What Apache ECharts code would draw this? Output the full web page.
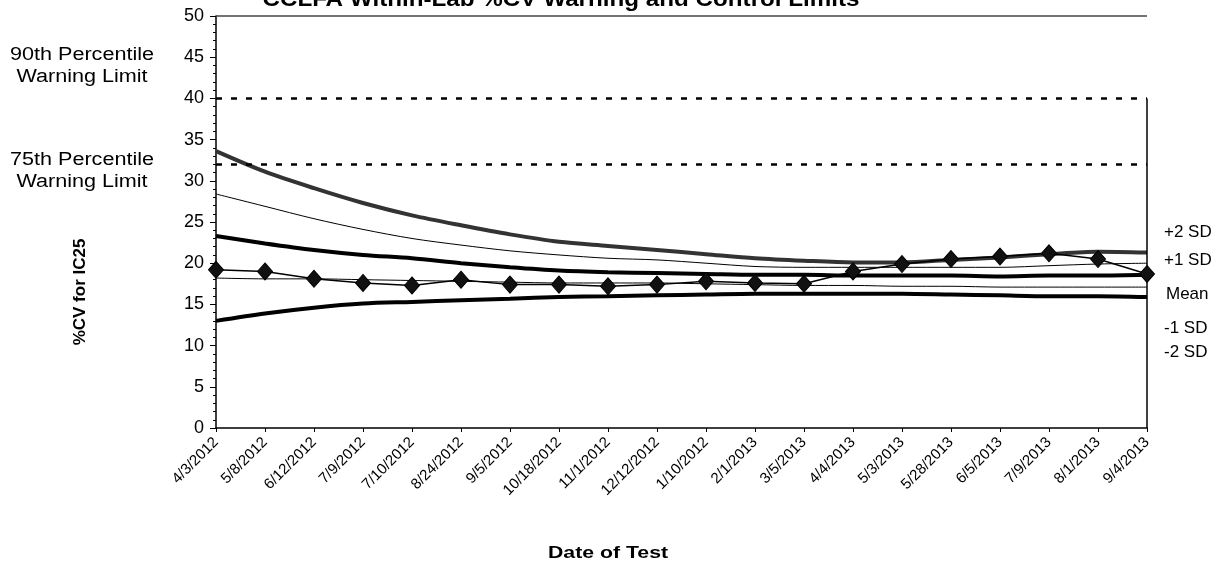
<!DOCTYPE html>
<html><head><meta charset="utf-8">
<script src="https://cdn.jsdelivr.net/npm/echarts@6/dist/echarts.min.js"></script>
<style>html,body{margin:0;padding:0;background:#fff}#c{width:1225px;height:575px}</style>
</head><body><div id="c"></div>
<script>
const dates = ['4/3/2012','5/8/2012','6/12/2012','7/9/2012','7/10/2012','8/24/2012','9/5/2012','10/18/2012','11/1/2012','12/12/2012','1/10/2012','2/1/2013','3/5/2013','4/4/2013','5/3/2013','5/28/2013','6/5/2013','7/9/2013','8/1/2013','9/4/2013'];
const cvValues = [19.2,19.0,18.1,17.6,17.3,18.0,17.4,17.4,17.2,17.4,17.8,17.6,17.5,19.0,19.9,20.5,20.8,21.2,20.5,18.7];
const plus2SD  = [33.6,31.1,29.1,27.3,25.8,24.6,23.5,22.6,22.1,21.6,21.1,20.6,20.3,20.1,20.1,20.4,20.7,21.1,21.4,21.3];
const plus1SD  = [28.4,26.9,25.4,24.1,23.0,22.2,21.5,21.0,20.6,20.4,20.0,19.6,19.5,19.5,19.5,19.5,19.5,19.7,19.9,20.0];
const meanCV   = [23.3,22.4,21.6,21.0,20.6,20.0,19.5,19.1,18.9,18.8,18.7,18.6,18.6,18.5,18.5,18.5,18.4,18.5,18.5,18.6];
const minus1SD = [18.2,18.1,18.1,18.0,17.9,17.8,17.7,17.6,17.6,17.6,17.5,17.4,17.3,17.3,17.2,17.2,17.1,17.1,17.1,17.1];
const minus2SD = [13.0,13.9,14.6,15.1,15.3,15.5,15.7,15.9,16.0,16.1,16.2,16.3,16.3,16.3,16.3,16.2,16.1,16.0,16.0,15.9];
const pct90 = 40;
const pct75 = 32;
const yMax = 50;
const yTicks = 5;

const F = 'Liberation Sans, Arial, sans-serif';
const chart = echarts.init(document.getElementById('c'));
function limitLine(name, data, width, color) {
  return {name, type:'line', data, symbol:'none', smooth:0.3, z:2,
    lineStyle:{color, width}};
}
function txt(x, y, text, size, opts) {
  return Object.assign({type:'text', x, y, style:Object.assign({text, fontFamily:F, fontSize:size, fill:'#000', verticalAlign:'middle'}, (opts && opts.style) || {})}, (opts && opts.el) || {});
}
chart.setOption({
  animation:false,
  backgroundColor:'#fff',
  grid:{left:216, right:78, top:16, bottom:147},
  xAxis:{type:'category', data:dates, boundaryGap:false,
    axisLine:{lineStyle:{color:'#000', width:1.5}},
    axisTick:{show:true, alignWithLabel:true, length:4, lineStyle:{color:'#000'}},
    axisLabel:{rotate:45, fontFamily:F, fontSize:15, color:'#000', margin:12, interval:0}},
  yAxis:{type:'value', min:0, max:yMax, interval:yTicks,
    axisLine:{show:true, lineStyle:{color:'#000', width:1.5}},
    axisTick:{show:true, length:6, lineStyle:{color:'#000'}},
    minorTick:{show:true, splitNumber:5, length:3, lineStyle:{color:'#000'}},
    splitLine:{show:false},
    axisLabel:{fontFamily:F, fontSize:18, color:'#000', margin:12}},
  series:[
    limitLine('+2 SD', plus2SD, 4, '#333'),
    limitLine('+1 SD', plus1SD, 1, '#000'),
    limitLine('Mean', meanCV, 4, '#000'),
    limitLine('-1 SD', minus1SD, 1, '#000'),
    limitLine('-2 SD', minus2SD, 4, '#000'),
    {name:'%CV', type:'line', data:cvValues, z:5, symbol:'diamond', symbolSize:[15,17],
      itemStyle:{color:'#111', borderColor:'#000', borderWidth:1},
      lineStyle:{color:'#000', width:1.5},
      markLine:{silent:true, symbol:'none', label:{show:false},
        data:[
          {yAxis:pct90, lineStyle:{type:[6,9], width:2.5, color:'#000'}},
          {yAxis:pct75, lineStyle:{type:[6,9], width:2.5, color:'#000'}},
          {yAxis:yMax, lineStyle:{type:'solid', width:1.5, color:'#444'}},
          [{coord:[dates[dates.length-1], 0], lineStyle:{type:'solid', width:1.5, color:'#000'}},
           {coord:[dates[dates.length-1], pct90]}]
        ]}}
  ],
  graphic:[
    txt(561, 0, 'CCLFA Within-Lab %CV Warning and Control Limits', 22, {style:{fontWeight:'bold', align:'center'}, el:{scaleX:1.1}}),
    txt(82, 66, '90th Percentile\nWarning Limit', 18, {style:{align:'center', lineHeight:22}, el:{scaleX:1.2}}),
    txt(82, 171, '75th Percentile\nWarning Limit', 18, {style:{align:'center', lineHeight:22}, el:{scaleX:1.2}}),
    txt(80, 292, '%CV for IC25', 17, {style:{fontWeight:'bold', align:'center'}, el:{rotation:Math.PI/2}}),
    txt(608, 553, 'Date of Test', 17, {style:{fontWeight:'bold', align:'center'}, el:{scaleX:1.25}}),
    txt(1164, 232, '+2 SD', 17),
    txt(1164, 260, '+1 SD', 17),
    txt(1166, 294, 'Mean', 17),
    txt(1164, 328, '-1 SD', 17),
    txt(1164, 352, '-2 SD', 17)
  ]
});
</script></body></html>
